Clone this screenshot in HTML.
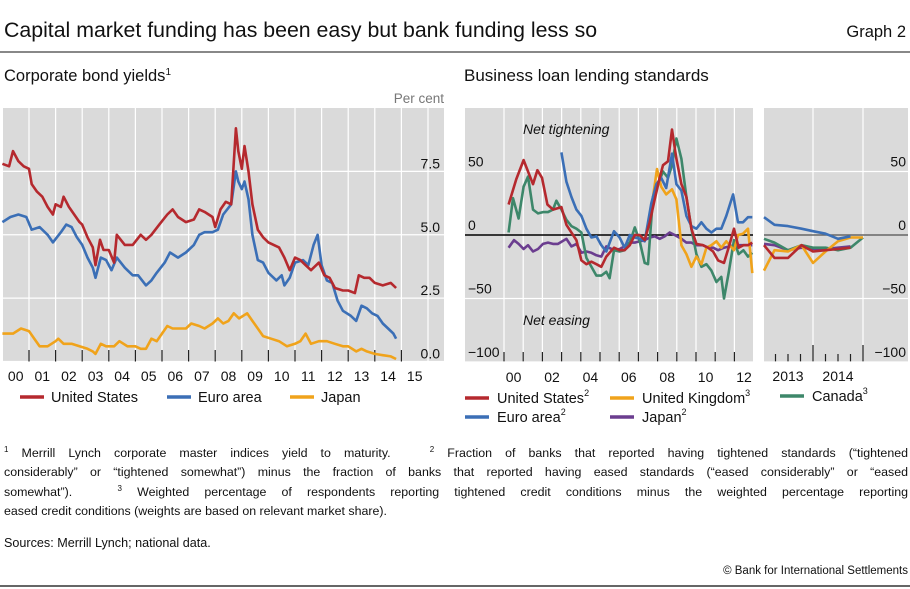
<!DOCTYPE html>
<html><head><meta charset="utf-8">
<style>
body{margin:0;background:#fff;width:910px;height:589px;overflow:hidden;font-family:"Liberation Sans",sans-serif;}
svg text{font-family:"Liberation Sans",sans-serif;}
.fn{position:absolute;left:4px;width:904px;font-size:12.4px;line-height:19.3px;color:#111;top:444px;}
.fn span{display:block;text-align:justify;text-align-last:justify;white-space:nowrap;}
.fn span.last{text-align-last:left;}
sup{font-size:8px;vertical-align:5px;line-height:0;}
</style></head><body>
<svg id="chart" width="910" height="589" style="position:absolute;left:0;top:0">
<text x="4" y="37" font-size="21.3" fill="#111">Capital market funding has been easy but bank funding less so</text>
<text x="906" y="37" font-size="16.5" fill="#111" text-anchor="end">Graph 2</text>
<line x1="0" y1="52" x2="910" y2="52" stroke="#111" stroke-width="1"/>
<text x="4" y="81" font-size="16.5" fill="#111">Corporate bond yields<tspan font-size="10" dy="-6">1</tspan></text>
<text x="464" y="81" font-size="17" fill="#111">Business loan lending standards</text>
<text x="444" y="103" font-size="13.5" fill="#777" text-anchor="end">Per cent</text>
<g id="left"></g><g id="right"></g>
<line x1="0" y1="586" x2="910" y2="586" stroke="#333" stroke-width="1.5"/>
</svg>
<div class="fn">
<span><sup>1</sup> Merrill Lynch corporate master indices yield to maturity. &nbsp; <sup>2</sup> Fraction of banks that reported having tightened standards (“tightened</span>
<span>considerably” or “tightened somewhat”) minus the fraction of banks that reported having eased standards (“eased considerably” or “eased</span>
<span>somewhat”). &nbsp; <sup>3</sup> Weighted percentage of respondents reporting tightened credit conditions minus the weighted percentage reporting</span>
<span class="last">eased credit conditions (weights are based on relevant market share).</span>
</div>
<div style="position:absolute;left:4px;top:536px;font-size:12.6px;color:#111">Sources: Merrill Lynch; national data.</div>
<div style="position:absolute;right:2px;top:565px;font-size:11.5px;color:#111">© Bank for International Settlements</div>
<script>
// ---- Left chart data (per cent) ----
const usYears=[2000.0,2000.25,2000.4,2000.6,2000.8,2001.0,2001.1,2001.3,2001.5,2001.7,2001.9,2002.0,2002.2,2002.3,2002.5,2002.7,2002.9,2003.0,2003.2,2003.4,2003.5,2003.67,2003.8,2004.0,2004.2,2004.3,2004.6,2004.9,2005.2,2005.4,2005.6,2005.9,2006.2,2006.4,2006.6,2006.9,2007.2,2007.4,2007.6,2007.9,2008.0,2008.2,2008.4,2008.6,2008.78,2008.87,2009.0,2009.1,2009.25,2009.4,2009.6,2009.8,2010.0,2010.2,2010.4,2010.6,2010.8,2011.0,2011.2,2011.4,2011.6,2011.9,2012.1,2012.3,2012.5,2012.8,2013.0,2013.25,2013.4,2013.6,2013.8,2014.0,2014.3,2014.6,2014.8];
const usVals=[7.8,7.7,8.3,7.9,7.7,7.6,7.0,6.7,6.5,6.1,5.8,6.2,6.1,6.5,6.1,5.8,5.5,5.4,4.9,4.5,3.8,4.8,4.4,4.4,3.9,5.0,4.6,4.6,5.0,4.8,5.0,5.4,5.8,6.0,5.7,5.5,5.6,6.0,5.9,5.7,5.3,6.0,6.3,6.2,9.2,8.3,7.6,8.5,7.5,6.2,5.2,4.9,4.7,4.6,4.5,4.1,3.6,4.1,4.0,3.8,3.6,3.9,3.4,3.3,2.9,2.8,2.8,2.7,3.4,3.3,3.3,3.1,3.0,3.1,2.9];
const euYears=[2000.0,2000.3,2000.6,2000.9,2001.1,2001.4,2001.7,2001.9,2002.2,2002.4,2002.6,2002.8,2003.0,2003.2,2003.4,2003.5,2003.7,2003.9,2004.1,2004.3,2004.6,2004.9,2005.1,2005.4,2005.6,2005.8,2006.1,2006.3,2006.6,2006.9,2007.2,2007.4,2007.6,2007.9,2008.1,2008.3,2008.6,2008.78,2008.87,2009.0,2009.1,2009.25,2009.4,2009.6,2009.8,2010.0,2010.3,2010.5,2010.6,2010.8,2011.0,2011.3,2011.5,2011.7,2011.85,2012.0,2012.2,2012.4,2012.6,2012.8,2013.1,2013.3,2013.5,2013.7,2013.9,2014.1,2014.3,2014.5,2014.7,2014.8];
const euVals=[5.5,5.7,5.8,5.7,5.2,5.3,5.0,4.7,5.1,5.4,5.3,4.9,4.6,4.1,3.7,3.3,4.1,4.0,3.6,4.1,3.7,3.4,3.4,3.0,3.2,3.5,3.9,4.3,4.1,4.3,4.6,5.0,5.1,5.1,5.2,5.8,6.2,7.5,7.1,6.8,7.1,6.4,5.0,4.0,3.9,3.5,3.2,3.4,3.0,3.3,3.9,4.0,3.8,4.6,5.0,3.8,3.2,3.1,2.4,2.0,1.8,1.6,2.2,2.1,1.9,1.8,1.5,1.3,1.1,0.9];
const jpYears=[2000.0,2000.4,2000.7,2001.0,2001.2,2001.4,2001.7,2002.0,2002.1,2002.3,2002.6,2002.9,2003.2,2003.4,2003.5,2003.7,2003.9,2004.2,2004.4,2004.7,2005.0,2005.2,2005.4,2005.6,2005.8,2006.0,2006.2,2006.4,2006.6,2006.9,2007.1,2007.4,2007.6,2007.9,2008.1,2008.3,2008.5,2008.7,2008.9,2009.2,2009.4,2009.6,2009.8,2010.1,2010.4,2010.7,2011.0,2011.2,2011.4,2011.6,2011.9,2012.2,2012.5,2012.8,2013.0,2013.3,2013.5,2013.7,2014.0,2014.3,2014.6,2014.8];
const jpVals=[1.1,1.1,1.3,1.2,0.9,0.6,0.6,0.8,0.9,0.7,0.7,0.6,0.5,0.4,0.3,0.7,0.6,0.6,0.8,0.6,0.6,0.5,0.5,0.9,0.8,1.1,1.4,1.3,1.3,1.3,1.5,1.4,1.3,1.5,1.7,1.5,1.6,1.9,1.7,1.9,1.6,1.3,1.0,0.9,0.8,0.6,0.7,0.8,1.1,0.7,0.8,0.8,0.7,0.6,0.6,0.4,0.5,0.4,0.3,0.25,0.2,0.1];
const leftYTicks=[0,2.5,5,7.5];
const leftYLabels=["0.0","2.5","5.0","7.5"];
const leftXLabels=["00","01","02","03","04","05","06","07","08","09","10","11","12","13","14","15"];

// ---- Right chart data (net percentage) ----
const rUsYears=[2000.24,2000.64,2001.02,2001.51,2001.74,2001.98,2002.26,2002.55,2002.99,2003.25,2003.51,2003.77,2004.03,2004.29,2004.55,2004.81,2005.07,2005.33,2005.73,2006.02,2006.28,2006.55,2006.81,2007.07,2007.33,2007.59,2007.85,2008.11,2008.28,2008.54,2008.75,2008.98,2009.24,2009.5,2009.76,2010.02,2010.36,2010.63,2010.89,2011.15,2011.46,2011.7,2011.98,2012.22,2012.47,2012.71,2012.93];
const rUsVals=[24,44,59,40,51,45,24,20,22,8,2,-4,-20,-23,-21,-23,-25,-17,-10,-12,-12,-8,0,0,-4,10,28,45,55,58,83,60,40,30,5,-7,-8,-10,-13,-20,-22,-10,5,-10,-8,-8,-6];
const rEuYears=[2002.99,2003.25,2003.51,2003.77,2004.03,2004.29,2004.55,2004.81,2005.07,2005.33,2005.73,2006.02,2006.28,2006.55,2006.81,2007.07,2007.33,2007.67,2007.93,2008.19,2008.45,2008.75,2008.98,2009.24,2009.5,2009.76,2010.02,2010.28,2010.54,2010.8,2011.06,2011.32,2011.58,2011.93,2012.19,2012.45,2012.71,2012.93];
const rEuVals=[65,42,30,20,15,5,-2,-1,-8,-13,3,-2,-10,0,-2,-3,-5,25,40,45,37,64,40,35,15,7,5,10,5,2,5,5,15,32,10,10,14,14];
const rUkYears=[2007.76,2007.97,2008.19,2008.45,2008.75,2008.98,2009.24,2009.5,2009.76,2010.02,2010.28,2010.54,2010.8,2011.06,2011.32,2011.58,2011.98,2012.19,2012.45,2012.71,2012.93];
const rUkVals=[30,52,38,32,36,28,-8,-15,-25,-17,-23,-10,-8,-5,-10,-5,-12,0,1,5,-30];
const rCaYears=[2000.24,2000.47,2000.76,2001.02,2001.25,2001.51,2001.77,2002.03,2002.29,2002.55,2002.73,2002.99,2003.25,2003.51,2003.77,2004.03,2004.29,2004.55,2004.81,2005.07,2005.33,2005.5,2005.73,2006.02,2006.28,2006.55,2006.81,2007.07,2007.33,2007.5,2007.76,2008.02,2008.28,2008.54,2008.75,2008.98,2009.24,2009.5,2009.76,2010.02,2010.28,2010.54,2010.8,2011.06,2011.32,2011.46,2011.7,2011.98,2012.22,2012.47,2012.71,2012.93];
const rCaVals=[2,29,13,38,46,20,17,18,18,20,27,20,12,7,5,2,-18,-25,-32,-32,-29,-34,-12,-13,-12,-6,6,-5,-22,-23,30,40,50,45,55,76,60,30,5,-15,-25,-23,-28,-37,-33,-50,-30,-4,-15,-12,-17,-14];
const rJpYears=[2000.24,2000.52,2000.76,2001.02,2001.25,2001.51,2001.77,2002.03,2002.29,2002.55,2002.81,2003.25,2003.51,2003.77,2004.03,2004.29,2004.55,2004.81,2005.07,2005.33,2005.73,2006.02,2006.28,2006.55,2006.81,2007.07,2007.33,2007.59,2007.85,2008.11,2008.37,2008.63,2008.89,2009.24,2009.5,2009.76,2010.02,2010.36,2010.63,2010.89,2011.15,2011.46,2011.98,2012.47,2012.93];
const rJpVals=[-10,-4,-7,-11,-8,-13,-11,-7,-6,-7,-7,-3,-9,-7,-14,-13,-14,-16,-17,-9,-12,-11,-9,-6,-6,-5,-4,-2,-1,-3,-1,2,0,-3,-6,-6,-8,-8,-10,-10,-12,-10,-8,-8,-8];
// second panel (2013 onwards)
const pUsYears=[2013.02,2013.23,2013.5,2013.77,2014.0,2014.25,2014.5,2014.75];
const pUsVals=[-8,-18,-18,-8,-13,-12,-11,-10];
const pEuYears=[2013.02,2013.23,2013.5,2013.77,2014.0,2014.25,2014.5,2014.75];
const pEuVals=[14,8,7,5,3,1,-3,-1];
const pUkYears=[2013.02,2013.23,2013.5,2013.77,2014.0,2014.25,2014.5,2014.75,2015.0];
const pUkVals=[-28,-12,-13,-8,-22,-13,-5,-2,-2];
const pCaYears=[2013.02,2013.23,2013.5,2013.77,2014.0,2014.25,2014.5,2014.75,2015.0];
const pCaVals=[-3,-6,-12,-8,-10,-10,-12,-10,-2];
const pJpYears=[2013.02,2013.23,2013.5,2013.77,2014.0,2014.25,2014.5,2014.75];
const pJpVals=[-7,-8,-12,-10,-11,-11,-10,-9];
const rightYTicks=[-100,-50,0,50];
const rightYLabels=["−100","−50","0","50"];
const rightXLabels=["00","02","04","06","08","10","12"];
const panel2XLabels=["2013","2014"];

const NS="http://www.w3.org/2000/svg";
const C={us:"#b5292e",eu:"#3b6fb6",jp:"#f0a31b",uk:"#f0a31b",ca:"#3d876a",jpp:"#6b3d8f"};
function mk(parent,tag,attrs){const e=document.createElementNS(NS,tag);for(const k in attrs)e.setAttribute(k,attrs[k]);parent.appendChild(e);return e;}
function pathD(xs,ys,fx,fy){return xs.map((x,i)=>(i?"L":"M")+fx(x).toFixed(1)+","+fy(ys[i]).toFixed(1)).join("");}

// ---------- LEFT ----------
const L=document.getElementById('left');
const lx0=3,lx1=444,ly0=108,ly1=361.5;
const lx=y=>2.4+(y-2000)*26.6;
const ly=v=>ly1-v*(ly1-ly0)/10;
let r=mk(L,'rect',{x:lx0,y:ly0,width:lx1-lx0,height:ly1-ly0,fill:"#dadada"});


for(let y=2001;y<=2016;y++){const l=mk(L,'line',{x1:lx(y),x2:lx(y),y1:ly0,y2:ly1,stroke:"#fff","stroke-width":1.2});

}
leftYTicks.forEach((v,i)=>{const l=mk(L,'line',{x1:lx0,x2:lx1,y1:ly(v),y2:ly(v),stroke:"#fff","stroke-width":1.2});


const t=mk(L,'text',{x:440,y:ly(v)-3,"font-size":14,fill:"#111","text-anchor":"end"});t.textContent=leftYLabels[i];

});
for(let y=2001;y<=2015;y++){const l=mk(L,'line',{x1:lx(y),x2:lx(y),y1:350,y2:ly1,stroke:"#222","stroke-width":1.2});

}
leftXLabels.forEach((s,i)=>{const t=mk(L,'text',{x:lx(2000.5+i),y:381,"font-size":14,fill:"#111","text-anchor":"middle"});t.textContent=s;

});
[[jpYears,jpVals,C.jp,'japan-yield-line'],[euYears,euVals,C.eu,'euro-area-yield-line'],[usYears,usVals,C.us,'us-yield-line']].forEach(s=>{
const p=mk(L,'path',{d:pathD(s[0],s[1],lx,ly),fill:"none",stroke:s[2],"stroke-width":2.6,"stroke-linejoin":"round"});

});
[["United States",C.us,20],["Euro area",C.eu,167],["Japan",C.jp,290]].forEach(s=>{
const g=mk(L,'g',{});


mk(g,'line',{x1:s[2],x2:s[2]+24,y1:397,y2:397,stroke:s[1],"stroke-width":3.5});
const t=mk(g,'text',{x:s[2]+31,y:402,"font-size":14.5,fill:"#111"});t.textContent=s[0];});

// ---------- RIGHT ----------
const R=document.getElementById('right');
const ax0=465,ax1=753,ay0=108,ay1=362;
const ax=y=>504+(y-2000)*19.2;
const ay=v=>235-v*1.27;
const bx0=764,bx1=908;
const bx=y=>813+(y-2014)*50;
r=mk(R,'rect',{x:ax0,y:ay0,width:ax1-ax0,height:ay1-ay0,fill:"#dadada"});


r=mk(R,'rect',{x:bx0,y:ay0,width:bx1-bx0,height:ay1-ay0,fill:"#dadada"});


for(let y=2000;y<=2012;y++){const l=mk(R,'line',{x1:ax(y),x2:ax(y),y1:ay0,y2:ay1,stroke:"#fff","stroke-width":1.2});


const tk=mk(R,'line',{x1:ax(y),x2:ax(y),y1:352,y2:ay1,stroke:"#222","stroke-width":1.2});

}
[2014,2015].forEach(y=>{const l=mk(R,'line',{x1:bx(y),x2:bx(y),y1:ay0,y2:ay1,stroke:"#fff","stroke-width":1.2});

});
for(let q=2013.25;q<=2015.01;q+=0.25){const big=Math.abs(q-Math.round(q))<0.01;
const l=mk(R,'line',{x1:bx(q),x2:bx(q),y1:big?345:354,y2:ay1,stroke:"#222","stroke-width":1.2});

}
rightYTicks.forEach((v,i)=>{
[[ax0,ax1],[bx0,bx1]].forEach(b=>{const l=mk(R,'line',{x1:b[0],x2:b[1],y1:ay(v),y2:ay(v),stroke:v===0?(b[0]===ax0?"#000":"#666"):"#fff","stroke-width":v===0?1.6:1.2});

});
const t=mk(R,'text',{x:468,y:ay(v)-5,"font-size":14,fill:"#111"});t.textContent=rightYLabels[i];


const t2=mk(R,'text',{x:906,y:ay(v)-5,"font-size":14,fill:"#111","text-anchor":"end"});t2.textContent=rightYLabels[i];

});
rightXLabels.forEach((s,i)=>{const t=mk(R,'text',{x:ax(2000.5+2*i),y:382,"font-size":14,fill:"#111","text-anchor":"middle"});t.textContent=s;

});
panel2XLabels.forEach((s,i)=>{const t=mk(R,'text',{x:bx(2013.5+i),y:381,"font-size":14,fill:"#111","text-anchor":"middle"});t.textContent=s;

});
let t=mk(R,'text',{x:523,y:134,"font-size":14,"font-style":"italic",fill:"#111"});t.textContent="Net tightening";


t=mk(R,'text',{x:523,y:325,"font-size":14,"font-style":"italic",fill:"#111"});t.textContent="Net easing";


const series=[
 [rJpYears,rJpVals,pJpYears,pJpVals,C.jpp,'japan-standards-line'],
 [rCaYears,rCaVals,pCaYears,pCaVals,C.ca,'canada-standards-line'],
 [rUkYears,rUkVals,pUkYears,pUkVals,C.uk,'uk-standards-line'],
 [rEuYears,rEuVals,pEuYears,pEuVals,C.eu,'euro-area-standards-line'],
 [rUsYears,rUsVals,pUsYears,pUsVals,C.us,'us-standards-line']];
series.forEach(s=>{
const p=mk(R,'path',{d:pathD(s[0],s[1],ax,ay),fill:"none",stroke:s[4],"stroke-width":2.6,"stroke-linejoin":"round"});


const p2=mk(R,'path',{d:pathD(s[2],s[3],bx,ay),fill:"none",stroke:s[4],"stroke-width":2.6,"stroke-linejoin":"round"});

});
[["United States","2",C.us,465,398],["United Kingdom","3",C.uk,610,398],["Canada","3",C.ca,780,396],["Euro area","2",C.eu,465,417],["Japan","2",C.jpp,610,417]].forEach(s=>{
const g=mk(R,'g',{});


mk(g,'line',{x1:s[3],x2:s[3]+24,y1:s[4],y2:s[4],stroke:s[2],"stroke-width":3.5});
const tx=mk(g,'text',{x:s[3]+32,y:s[4]+5,"font-size":14.5,fill:"#111"});tx.textContent=s[0];
const sp=mk(tx,'tspan',{"font-size":9,dy:-7});sp.textContent=s[1];});
</script>
</body></html>
